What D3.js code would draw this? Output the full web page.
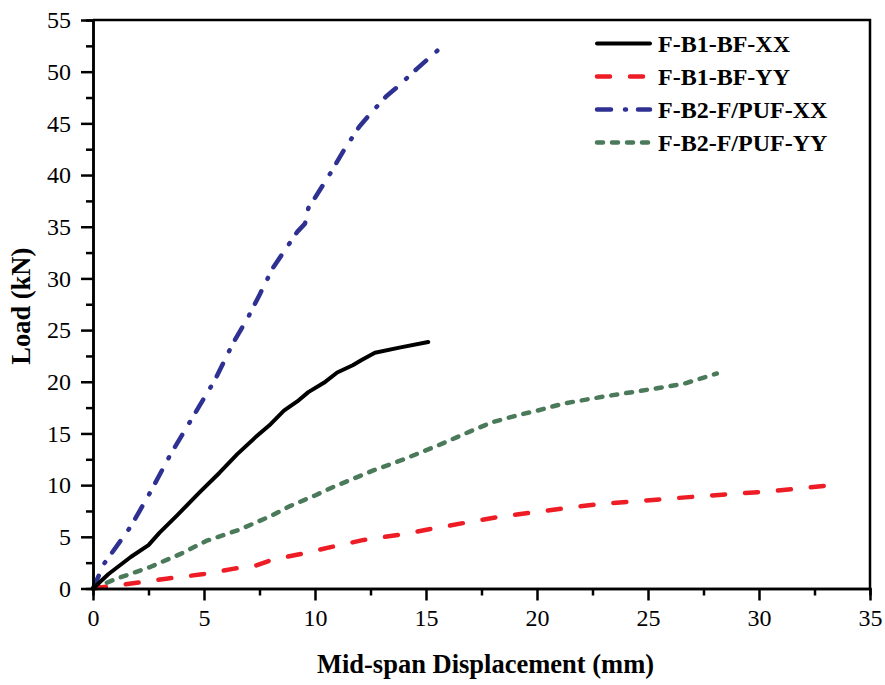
<!DOCTYPE html>
<html>
<head>
<meta charset="utf-8">
<script src="https://cdn.jsdelivr.net/npm/d3@7"></script>
<style>
  body { margin: 0; background: #fff; }
  svg { display: block; }
</style>
</head>
<body>
<div id="chart"></div>
<script>
// load vs. mid-span displacement, four beams

var seriesNames = ["F-B1-BF-XX", "F-B1-BF-YY", "F-B2-F/PUF-XX", "F-B2-F/PUF-YY"];

var b1xx = [[0,0],[0.7,1.4],[1.7,3.05],[2.5,4.2],[3,5.4],[3.8,7.1],[4.8,9.3],[5.7,11.2],[6.5,13],[7.3,14.6],[8,15.9],[8.6,17.2],[9.2,18.1],[9.7,19],[10.4,19.9],[11,20.9],[11.7,21.6],[12.1,22.1],[12.7,22.8],[13.8,23.3],[15.1,23.85]];

var b1yy = [[0,0],[0.5,0.15],[1.8,0.5],[3.3,0.95],[5,1.4],[6.3,1.9],[7.3,2.2],[8.1,2.8],[9.5,3.4],[10.7,4],[12.2,4.7],[13.8,5.2],[15.2,5.75],[16.6,6.3],[18.2,6.9],[19.6,7.3],[21.2,7.75],[22.7,8.15],[24.2,8.4],[25.7,8.65],[27.2,8.9],[28.5,9.1],[30.5,9.4],[33.5,10.05]];

var b2xx = [[0,0],[0.5,2.4],[1.7,6],[2.5,9],[3.5,13],[4.5,16.6],[5.5,20.2],[6.3,23.7],[7,26.3],[7.5,28.4],[8.1,31],[9.2,34.5],[9.55,35.3],[9.7,36.8],[10,37.8],[10.7,40.2],[11.3,42.4],[12,44.7],[12.4,45.7],[13.2,47.6],[13.7,48.5],[14.6,50.3],[15.6,52.2]];

var b2yy = [[0,0],[1,0.9],[2.6,2.1],[4,3.4],[5.1,4.6],[6.6,5.7],[8,7],[8.9,8],[10,9],[10.8,9.8],[12.6,11.4],[14,12.5],[15.5,13.8],[17.1,15.3],[18,16.1],[19.2,16.8],[20,17.2],[21.2,17.9],[23.1,18.6],[25.2,19.3],[26.6,19.8],[28.1,20.8]];

var xTicks = [0, 5, 10, 15, 20, 25, 30, 35];
var yTicks = [0, 5, 10, 15, 20, 25, 30, 35, 40, 45, 50, 55];

var margin = {top: 20, right: 15, bottom: 96.5, left: 93},
    width = 885 - margin.left - margin.right,
    height = 685 - margin.top - margin.bottom;

var serif = "'Liberation Serif', 'Times New Roman', serif";

var svg = d3.select("#chart").append("svg")
    .attr("width", width + margin.left + margin.right)
    .attr("height", height + margin.top + margin.bottom)
  .append("g")
    .attr("transform", "translate(" + margin.left + "," + margin.top + ")");

var x = d3.scaleLinear().domain([0, 35]).range([0, width]);
var y = d3.scaleLinear().domain([0, 55]).range([height, 0]);

var styles = [
    {color: "#000000", dash: null, w: 4},
    {color: "#ee1c25", dash: "13,20", w: 4.5},
    {color: "#2e3192", dash: "14,14,1,12", w: 4.5},
    {color: "#4b7a5b", dash: "6,9", w: 4.5}
];
var allData = [b1xx, b1yy, b2xx, b2yy];

var line = d3.line()
    .x(function(d) { return x(d[0]); })
    .y(function(d) { return y(d[1]); });

// green, red, blue, then black on top
[3, 1, 2, 0].forEach(function(i) {
    svg.append("path")
        .datum(allData[i])
        .attr("fill", "none")
        .attr("stroke", styles[i].color)
        .attr("stroke-width", styles[i].w)
        .attr("stroke-linecap", "round")
        .attr("stroke-linejoin", "round")
        .attr("stroke-dasharray", styles[i].dash)
        .attr("d", line);
});

// frame (top + right)
svg.append("path")
    .attr("d", "M0,0H" + width + "V" + height)
    .attr("fill", "none")
    .attr("stroke", "#000")
    .attr("stroke-width", 2.5);

var minorX = d3.range(2.5, 35, 5), minorY = d3.range(2.5, 55, 5);

function styleAxis(g) {
    g.select(".domain").attr("stroke-width", 2.5);
    g.selectAll(".tick line").attr("stroke-width", 2.5);
    g.selectAll("text")
        .attr("font-family", serif)
        .attr("font-size", 24)
        .attr("fill", "#000");
}

svg.append("g")
    .attr("transform", "translate(0," + height + ")")
    .call(d3.axisBottom(x).tickValues(minorX).tickSize(7).tickFormat(""))
    .call(styleAxis);
svg.append("g")
    .call(d3.axisLeft(y).tickValues(minorY).tickSize(7).tickFormat(""))
    .call(styleAxis);

svg.append("g")
    .attr("transform", "translate(0," + height + ")")
    .call(d3.axisBottom(x).tickValues(xTicks).tickSize(12).tickPadding(8).tickSizeOuter(0))
    .call(styleAxis);
svg.append("g")
    .call(d3.axisLeft(y).tickValues(yTicks).tickSize(12).tickPadding(10).tickSizeOuter(0))
    .call(styleAxis);

// axis titles
svg.append("text")
    .attr("x", width / 2 + 4)
    .attr("y", height + 84)
    .attr("text-anchor", "middle")
    .attr("font-family", serif)
    .attr("font-weight", "bold")
    .attr("font-size", 26.5)
    .text("Mid-span Displacement (mm)");

svg.append("text")
    .attr("transform", "translate(" + (-63) + "," + (height / 2 + 2) + ") rotate(-90)")
    .attr("text-anchor", "middle")
    .attr("font-family", serif)
    .attr("font-weight", "bold")
    .attr("font-size", 26.5)
    .text("Load (kN)");

// legend
var legend = svg.append("g")
    .attr("transform", "translate(" + (595 - margin.left) + "," + (43.5 - margin.top) + ")");

seriesNames.forEach(function(name, i) {
    var row = legend.append("g").attr("transform", "translate(0," + (i * 33) + ")");
    row.append("line")
        .attr("x1", 2).attr("x2", 55)
        .attr("y1", 0).attr("y2", 0)
        .attr("stroke", styles[i].color)
        .attr("stroke-width", styles[i].w)
        .attr("stroke-linecap", "round")
        .attr("stroke-dasharray", styles[i].dash);
    row.append("text")
        .attr("x", 63)
        .attr("y", 8)
        .attr("font-family", serif)
        .attr("font-weight", "bold")
        .attr("font-size", 24)
        .text(name);
});
</script>
</body>
</html>
